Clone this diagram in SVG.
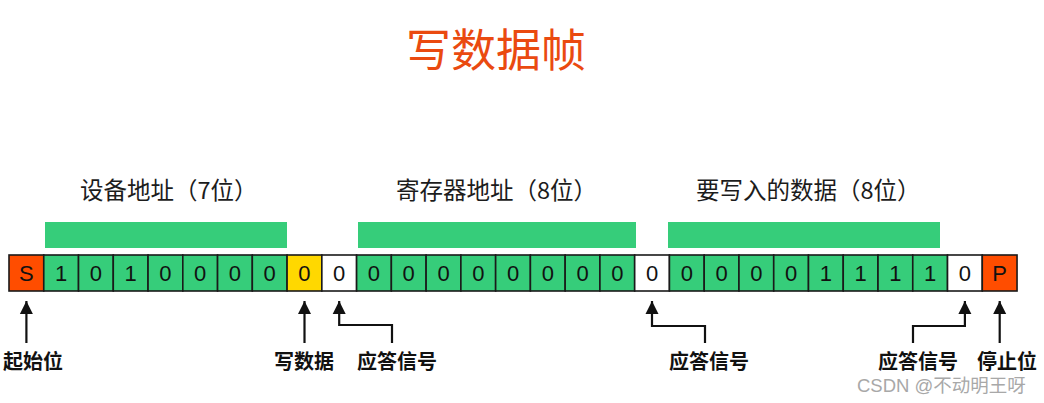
<svg xmlns="http://www.w3.org/2000/svg" width="1044" height="403" viewBox="0 0 1044 403">
<style>
.cjk{font-family:"Noto Sans CJK SC","Noto Sans",sans-serif}
.title{font-size:45px;fill:#EA4A10;text-anchor:middle;font-weight:normal}
.sec{font-size:23.5px;fill:#1c1c1c}
.lbl{font-size:20px;font-weight:bold;fill:#111;text-anchor:middle}
.bit{font-family:"Liberation Sans",Arial,sans-serif;font-size:22px;fill:#111;text-anchor:middle}
.cell{stroke:#1a1a1a;stroke-width:1.6}
.g{fill:#36CD7A}.o{fill:#FF4D00}.y{fill:#FFD800}.w{fill:#ffffff}
.bar{fill:#36CD7A}
.con{fill:none;stroke:#111;stroke-width:2.2}
.wm{font-family:"Liberation Sans","Noto Sans CJK SC",sans-serif;font-size:18.5px;fill:#a8a8a8}
</style>
<defs>
<marker id="ah" markerUnits="userSpaceOnUse" markerWidth="14" markerHeight="14" refX="13" refY="7" orient="auto" viewBox="0 0 14 14">
<path d="M0,0.5 L13,7 L0,13.5 Z" fill="#111"/>
</marker>
</defs>
<rect width="1044" height="403" fill="#ffffff"/>
<g id="title"><text class="cjk title" x="496" y="67">写数据帧</text></g>
<g id="section-device">
<text class="cjk sec" x="80" y="199">设备地址（7位）</text>
<rect class="bar" x="45" y="222" width="242" height="26"/>
</g>
<g id="section-register">
<text class="cjk sec" x="396" y="199">寄存器地址（8位）</text>
<rect class="bar" x="358" y="222" width="278" height="26"/>
</g>
<g id="section-data">
<text class="cjk sec" x="696" y="199">要写入的数据（8位）</text>
<rect class="bar" x="668" y="222" width="272" height="26"/>
</g>
<g id="frame">
<g id="c0"><rect class="cell o" x="9" y="255" width="34.76" height="36"/><text class="bit" x="26.38" y="281">S</text></g>
<g id="c1"><rect class="cell g" x="43.76" y="255" width="34.76" height="36"/><text class="bit" x="61.14" y="281">1</text></g>
<g id="c2"><rect class="cell g" x="78.52" y="255" width="34.76" height="36"/><text class="bit" x="95.9" y="281">0</text></g>
<g id="c3"><rect class="cell g" x="113.28" y="255" width="34.76" height="36"/><text class="bit" x="130.66" y="281">1</text></g>
<g id="c4"><rect class="cell g" x="148.04" y="255" width="34.76" height="36"/><text class="bit" x="165.42" y="281">0</text></g>
<g id="c5"><rect class="cell g" x="182.8" y="255" width="34.76" height="36"/><text class="bit" x="200.18" y="281">0</text></g>
<g id="c6"><rect class="cell g" x="217.56" y="255" width="34.76" height="36"/><text class="bit" x="234.94" y="281">0</text></g>
<g id="c7"><rect class="cell g" x="252.32" y="255" width="34.76" height="36"/><text class="bit" x="269.7" y="281">0</text></g>
<g id="c8"><rect class="cell y" x="287.08" y="255" width="34.76" height="36"/><text class="bit" x="304.46" y="281">0</text></g>
<g id="c9"><rect class="cell w" x="321.84" y="255" width="34.76" height="36"/><text class="bit" x="339.22" y="281">0</text></g>
<g id="c10"><rect class="cell g" x="356.6" y="255" width="34.76" height="36"/><text class="bit" x="373.98" y="281">0</text></g>
<g id="c11"><rect class="cell g" x="391.36" y="255" width="34.76" height="36"/><text class="bit" x="408.74" y="281">0</text></g>
<g id="c12"><rect class="cell g" x="426.12" y="255" width="34.76" height="36"/><text class="bit" x="443.5" y="281">0</text></g>
<g id="c13"><rect class="cell g" x="460.88" y="255" width="34.76" height="36"/><text class="bit" x="478.26" y="281">0</text></g>
<g id="c14"><rect class="cell g" x="495.64" y="255" width="34.76" height="36"/><text class="bit" x="513.02" y="281">0</text></g>
<g id="c15"><rect class="cell g" x="530.4" y="255" width="34.76" height="36"/><text class="bit" x="547.78" y="281">0</text></g>
<g id="c16"><rect class="cell g" x="565.16" y="255" width="34.76" height="36"/><text class="bit" x="582.54" y="281">0</text></g>
<g id="c17"><rect class="cell g" x="599.92" y="255" width="34.76" height="36"/><text class="bit" x="617.3" y="281">0</text></g>
<g id="c18"><rect class="cell w" x="634.68" y="255" width="34.76" height="36"/><text class="bit" x="652.06" y="281">0</text></g>
<g id="c19"><rect class="cell g" x="669.44" y="255" width="34.76" height="36"/><text class="bit" x="686.82" y="281">0</text></g>
<g id="c20"><rect class="cell g" x="704.2" y="255" width="34.76" height="36"/><text class="bit" x="721.58" y="281">0</text></g>
<g id="c21"><rect class="cell g" x="738.96" y="255" width="34.76" height="36"/><text class="bit" x="756.34" y="281">0</text></g>
<g id="c22"><rect class="cell g" x="773.72" y="255" width="34.76" height="36"/><text class="bit" x="791.1" y="281">0</text></g>
<g id="c23"><rect class="cell g" x="808.48" y="255" width="34.76" height="36"/><text class="bit" x="825.86" y="281">1</text></g>
<g id="c24"><rect class="cell g" x="843.24" y="255" width="34.76" height="36"/><text class="bit" x="860.62" y="281">1</text></g>
<g id="c25"><rect class="cell g" x="878" y="255" width="34.76" height="36"/><text class="bit" x="895.38" y="281">1</text></g>
<g id="c26"><rect class="cell g" x="912.76" y="255" width="34.76" height="36"/><text class="bit" x="930.14" y="281">1</text></g>
<g id="c27"><rect class="cell w" x="947.52" y="255" width="34.76" height="36"/><text class="bit" x="964.9" y="281">0</text></g>
<g id="c28"><rect class="cell o" x="982.28" y="255" width="34.76" height="36"/><text class="bit" x="999.66" y="281">P</text></g>
</g>
<g id="connectors">
<path class="con" d="M26.4,343 V301" marker-end="url(#ah)"/>
<path class="con" d="M304.5,343 V301" marker-end="url(#ah)"/>
<path class="con" d="M392,343 V325 H339.2 V301" marker-end="url(#ah)"/>
<path class="con" d="M705,343 V326 H652 V301" marker-end="url(#ah)"/>
<path class="con" d="M913,343 V326 H964.9 V301" marker-end="url(#ah)"/>
<path class="con" d="M999.7,343 V301" marker-end="url(#ah)"/>
</g>
<g id="label-start"><text class="cjk lbl" x="33" y="369">起始位</text></g>
<g id="label-write"><text class="cjk lbl" x="304" y="369">写数据</text></g>
<g id="label-ack1"><text class="cjk lbl" x="397" y="369">应答信号</text></g>
<g id="label-ack2"><text class="cjk lbl" x="709" y="369">应答信号</text></g>
<g id="label-ack3"><text class="cjk lbl" x="918" y="369">应答信号</text></g>
<g id="label-stop"><text class="cjk lbl" x="1007" y="369">停止位</text></g>
<g id="watermark"><text class="wm" x="857" y="392">CSDN @不动明王呀</text></g>
</svg>
